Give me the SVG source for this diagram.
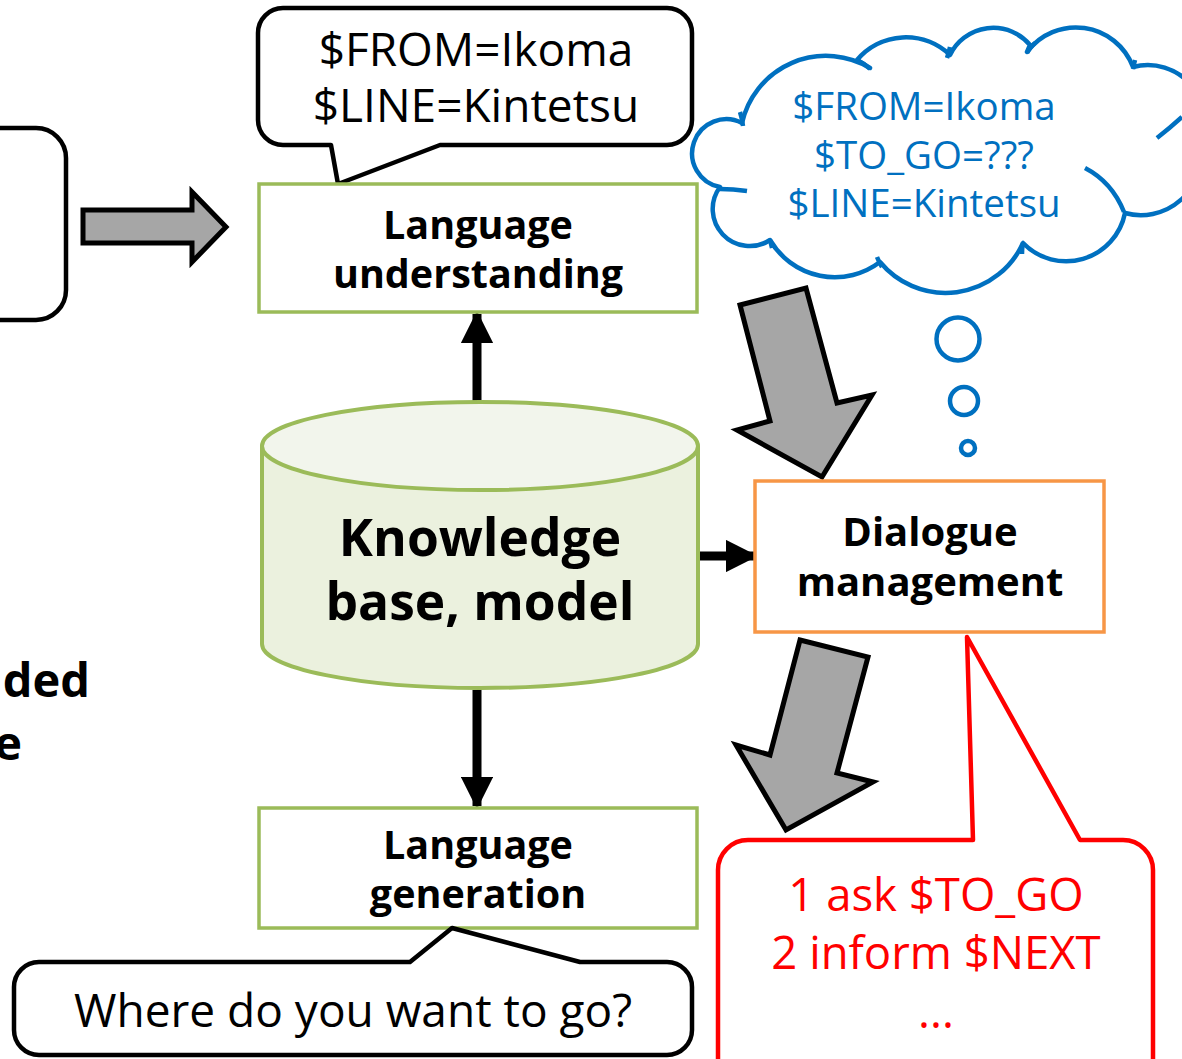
<svg xmlns="http://www.w3.org/2000/svg" width="1182" height="1059" viewBox="0 0 1182 1059">
<style>
.t{font-family:"Open Sans","Noto Sans","Liberation Sans",sans-serif;text-anchor:middle}
.b{font-weight:bold}
.blk{fill:#000}
.blue{fill:#0070c0}
.red{fill:#ff0000}
.gray{fill:#a6a6a6;stroke:#000;stroke-width:5;stroke-linejoin:miter}
.bub{fill:#fff;stroke:#000;stroke-width:4.5;stroke-linejoin:round}
.grn{fill:#fff;stroke:#9bbb59;stroke-width:3.5}
.cl{fill:none;stroke:#0070c0;stroke-width:4.5}
</style>
<defs>
<marker id="ah" viewBox="0 0 10 10" refX="9" refY="5" markerWidth="3.6" markerHeight="3.6" orient="auto" markerUnits="strokeWidth">
<path d="M0,0 L10,5 L0,10 Z" fill="#000"/>
</marker>
</defs>
<rect width="1182" height="1059" fill="#fff"/>

<g id="left-box">
<rect x="-40" y="128" width="106" height="192" rx="30" fill="#fff" stroke="#000" stroke-width="4.5"/>
</g>

<g id="left-text">
<text class="t b blk" x="90" y="697" font-size="47" style="text-anchor:end">ded</text>
<text class="t b blk" x="22" y="760" font-size="47" style="text-anchor:end">e</text>
</g>

<g id="connectors">
<polygon class="gray" points="83,210 192,210 192,192 226,227 192,262 192,243 83,243"/>
<polygon class="gray" points="740,305 806,288 837,403 872,395 822,477 737,430 770,421"/>
<polygon class="gray" points="800,640 868,657 837,773 873,782 786,830 736,745 770,755"/>
<line x1="477" y1="402" x2="477" y2="314" stroke="#000" stroke-width="9" marker-end="url(#ah)"/>
<line x1="698" y1="556" x2="755" y2="556" stroke="#000" stroke-width="9" marker-end="url(#ah)"/>
<line x1="477" y1="690" x2="477" y2="806" stroke="#000" stroke-width="9" marker-end="url(#ah)"/>
</g>

<g id="bubble-top">
<path class="bub" d="M283,8 H667 A25,25 0 0 1 692,33 V120 A25,25 0 0 1 667,145 H440 L338,184 L331,145 H283 A25,25 0 0 1 258,120 V33 A25,25 0 0 1 283,8 Z"/>
<text class="t blk" x="476" y="66" font-size="46">$FROM=Ikoma</text>
<text class="t blk" x="476" y="122" font-size="46">$LINE=Kintetsu</text>
</g>

<g id="lang-understanding">
<rect class="grn" x="259" y="184" width="438" height="128"/>
<text class="t b blk" x="478" y="239" font-size="39.5">Language</text>
<text class="t b blk" x="478" y="288" font-size="39.5">understanding</text>
</g>

<g id="cloud">
<path d="M742,123 A86,86 0 0 1 870,68 L857,60 A64,64 0 0 1 950,55 A48,48 0 0 1 1030,45 L1027,52 A61,61 0 0 1 1133,67 A57,57 0 0 1 1200,145 A60,60 0 0 1 1125,213 A60,60 0 0 1 1023,243 A85,85 0 0 1 880,262 A75,75 0 0 1 770,240 A37,37 0 0 1 720,187 A34.2,34.2 0 1 1 742,123 Z" fill="#fff" stroke="#0070c0" stroke-width="4.5" stroke-linejoin="round"/>
<path class="cl" d="M740,112 Q742,118 743,126 M857,60 Q864,63 870,69 M950,47 Q949,52 947,58 M1035,43 Q1030,47 1027,53 M1135,60 Q1134,64 1133,69 M1157,138 Q1170,128 1182,117 M1085,168 Q1112,182 1124,212 M1023,243 Q1022,248 1022,254 M877,257 Q879,262 882,267 M770,240 Q771,244 772,248 M720,189 Q733,189 747,191"/>
<text class="t blue" x="924" y="120" font-size="38.5">$FROM=Ikoma</text>
<text class="t blue" x="924" y="169" font-size="38.5">$TO_GO=???</text>
<text class="t blue" x="924" y="217" font-size="38.5">$LINE=Kintetsu</text>
<circle cx="958" cy="339" r="21.5" fill="#fff" stroke="#0070c0" stroke-width="4.5"/>
<circle cx="964" cy="401" r="14" fill="#fff" stroke="#0070c0" stroke-width="4.5"/>
<circle cx="968" cy="448" r="7" fill="#fff" stroke="#0070c0" stroke-width="4.5"/>
</g>

<g id="knowledge-base">
<path d="M262,446 V644 A218,44 0 0 0 698,644 V446" fill="#ebf1de" stroke="#9bbb59" stroke-width="4"/>
<ellipse cx="480" cy="446" rx="218" ry="44" fill="#f2f5ec" stroke="#9bbb59" stroke-width="4"/>
<text class="t b blk" x="480" y="556" font-size="51.5">Knowledge</text>
<text class="t b blk" x="480" y="620" font-size="51.5">base, model</text>
</g>

<g id="dialogue-management">
<rect x="755" y="481" width="349" height="151" fill="#fff" stroke="#f79646" stroke-width="3.5"/>
<text class="t b blk" x="930" y="546" font-size="40">Dialogue</text>
<text class="t b blk" x="930" y="596" font-size="40">management</text>
</g>

<g id="red-callout">
<path d="M748,840 H973 L967,637 L1080,840 H1123 A30,30 0 0 1 1153,870 V1090 H718 V870 A30,30 0 0 1 748,840 Z" fill="#fff" stroke="#ff0000" stroke-width="4.5" stroke-linejoin="round"/>
<text class="t red" x="936" y="911" font-size="45.5">1 ask $TO_GO</text>
<text class="t red" x="936" y="969" font-size="45.5">2 inform $NEXT</text>
<text class="t red" x="936" y="1028" font-size="45.5">...</text>
</g>

<g id="lang-generation">
<rect class="grn" x="259" y="808" width="438" height="120"/>
<text class="t b blk" x="478" y="859" font-size="39.5">Language</text>
<text class="t b blk" x="478" y="908" font-size="39.5">generation</text>
</g>

<g id="bubble-bottom">
<path class="bub" d="M39,962 H410 L452,928 L580,962 H667 A25,25 0 0 1 692,987 V1030 A25,25 0 0 1 667,1055 H39 A25,25 0 0 1 14,1030 V987 A25,25 0 0 1 39,962 Z"/>
<text class="t blk" x="353" y="1027" font-size="46">Where do you want to go?</text>
</g>
</svg>
